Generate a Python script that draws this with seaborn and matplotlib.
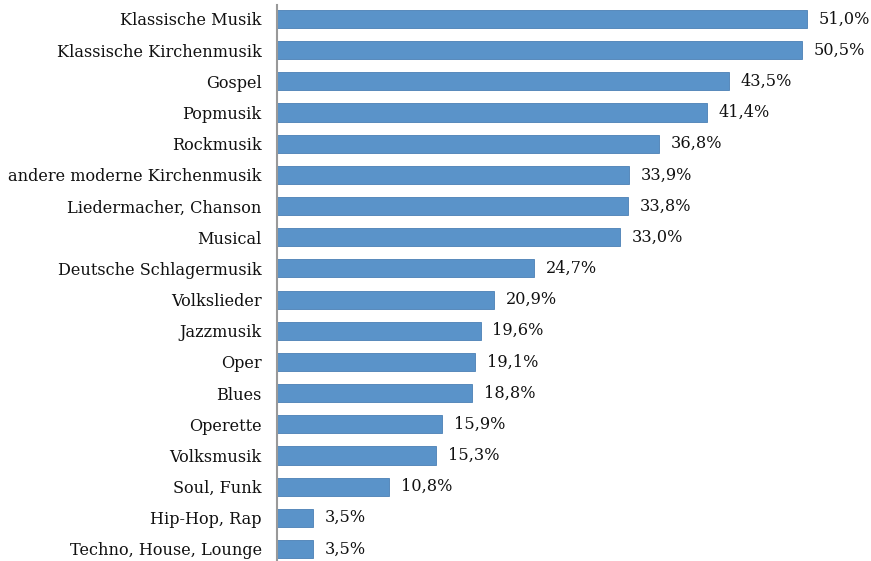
import matplotlib
matplotlib.use("Agg")
import matplotlib.pyplot as plt
import seaborn as sns
import pandas as pd

categories = [
    "Klassische Musik",
    "Klassische Kirchenmusik",
    "Gospel",
    "Popmusik",
    "Rockmusik",
    "andere moderne Kirchenmusik",
    "Liedermacher, Chanson",
    "Musical",
    "Deutsche Schlagermusik",
    "Volkslieder",
    "Jazzmusik",
    "Oper",
    "Blues",
    "Operette",
    "Volksmusik",
    "Soul, Funk",
    "Hip-Hop, Rap",
    "Techno, House, Lounge",
]
values = [51.0, 50.5, 43.5, 41.4, 36.8, 33.9, 33.8, 33.0, 24.7, 20.9,
          19.6, 19.1, 18.8, 15.9, 15.3, 10.8, 3.5, 3.5]

df = pd.DataFrame({"Kategorie": categories, "Anteil": values})

sns.set_style("white")
plt.rcParams["font.family"] = ["DejaVu Serif"]

fig = plt.figure(figsize=(8.71, 5.61), dpi=100)
ax = fig.add_axes([277 / 871, 0.0, 1 - 277 / 871, 1 - 5 / 561])

bar_color = "#5A93C9"
sns.barplot(data=df, x="Anteil", y="Kategorie", orient="h", ax=ax,
            color=bar_color, saturation=1, width=0.58,
            edgecolor="#4A80B5", linewidth=0.6)

ax.set_xlim(0, (871 - 277) / 10.39)
ax.set_ylim(17.385, -0.449)
ax.set_xlabel("")
ax.set_ylabel("")
ax.set_xticks([])

for s in ["top", "right", "bottom"]:
    ax.spines[s].set_visible(False)
ax.spines["left"].set_color("#999999")
ax.spines["left"].set_linewidth(1.5)

ax.tick_params(axis="y", length=0, pad=11, labelsize=11.6, labelcolor="#111111")

for i, v in enumerate(values):
    label = f"{v:.1f}".replace(".", ",") + "%"
    ax.annotate(label, xy=(v, i), xytext=(8.5, 0), textcoords="offset points",
                ha="left", va="center", fontsize=11.6, color="#111111")

fig.savefig("out.png", dpi=100)
